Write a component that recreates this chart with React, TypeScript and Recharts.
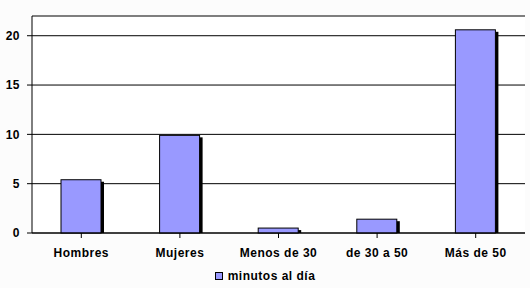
import { BarChart, Bar, XAxis, YAxis, CartesianGrid, Legend } from 'recharts'

const categories = ['Hombres', 'Mujeres', 'Menos de 30', 'de 30 a 50', 'Más de 50']
const minutos = [5.4, 9.9, 0.5, 1.4, 20.6]
const yTicks = [0, 5, 10, 15, 20]
const seriesName = 'minutos al día'

const data = categories.map((name, i) => ({ name, minutos: minutos[i] }))

const FONT = '"Liberation Sans", Arial, sans-serif'
const BAR = '#9999FF'

function ShadowBar(props: any) {
  const { x, y, width, height } = props
  if (height == null || width == null) return null
  return (
    <g>
      <rect x={x + 3} y={y + 2} width={width} height={Math.max(height - 2, 0)} fill="#000" />
      <rect x={x} y={y} width={width} height={height} fill={BAR} stroke="#000" strokeWidth={1} />
    </g>
  )
}

function LegendBox() {
  return (
    <div
      style={{
        display: 'flex',
        justifyContent: 'center',
        alignItems: 'center',
        height: 24,
        fontFamily: FONT,
        fontWeight: 'bold',
        fontSize: 12,
        letterSpacing: 0.5,
        color: '#000',
      }}
    >
      <span
        style={{
          display: 'inline-block',
          width: 6,
          height: 6,
          background: BAR,
          border: '1px solid #000',
          marginRight: 5,
        }}
      />
      <span>{seriesName}</span>
    </div>
  )
}

export default function App() {
  const tickStyle = { fontFamily: FONT, fontWeight: 'bold', fontSize: 12, fill: '#000', letterSpacing: 0.5 }
  return (
    <div style={{ position: 'absolute', left: 0, top: 0, width: 530, height: 288, background: '#FCFCFC' }}>
      <BarChart width={530} height={288} data={data} margin={{ top: 16, right: 5, left: 0, bottom: 0 }}>
        <CartesianGrid vertical={false} stroke="#000" strokeWidth={1} fill="#fff" />
        <XAxis
          dataKey="name"
          height={31}
          axisLine={{ stroke: '#000' }}
          tickLine={{ stroke: '#000' }}
          tickSize={5}
          tickMargin={10}
          interval={0}
          tick={tickStyle}
        />
        <XAxis xAxisId="top" orientation="top" dataKey="name" height={0} tick={false} tickLine={false} axisLine={{ stroke: '#808080' }} />
        <YAxis
          domain={[0, 22]}
          ticks={yTicks}
          width={32}
          axisLine={{ stroke: '#000' }}
          tickLine={{ stroke: '#000' }}
          tickSize={5}
          tickMargin={7}
          tick={tickStyle}
        />
        <YAxis yAxisId="right" orientation="right" width={0} domain={[0, 22]} tick={false} tickLine={false} axisLine={{ stroke: '#808080' }} />
        <Legend
          verticalAlign="bottom"
          content={() => <LegendBox />}
          wrapperStyle={{ left: 0, width: 530, height: 24, bottom: 0 }}
        />
        <Bar dataKey="minutos" name={seriesName} barSize={40} shape={ShadowBar} isAnimationActive={false} />
      </BarChart>
    </div>
  )
}
